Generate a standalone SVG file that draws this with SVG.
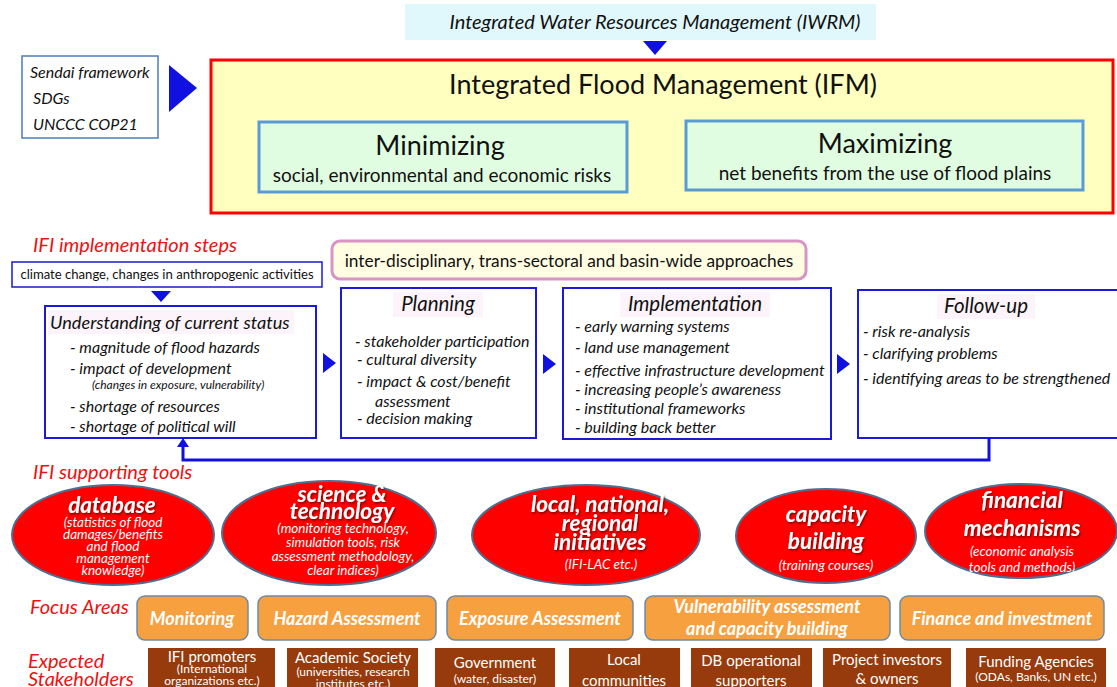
<svg xmlns="http://www.w3.org/2000/svg" width="1117" height="687" viewBox="0 0 1117 687">
<defs>
<style>
text{font-family:Lato,"Open Sans","Liberation Sans",sans-serif;fill:#111}
.it{font-style:italic}
.red{fill:#ee1111;font-style:italic;font-size:20px}
.step{fill:#fff;stroke:#1a1ad8;stroke-width:2}
.tri{fill:#1010e0}
.item{font-style:italic;font-size:16px}
.ell{fill:#ff0000;stroke:#4f6f90;stroke-width:2}
.et{fill:#fff;font-weight:bold;font-style:italic;font-size:22.5px;text-anchor:middle;filter:url(#sh)}
.es{fill:#fff;font-style:italic;font-size:13.5px;text-anchor:middle}
.fa{fill:#f7a040;stroke:#6c8aa6;stroke-width:1.5}
.ft{fill:#fff;font-weight:bold;font-style:italic;font-size:18px;text-anchor:middle}
.sb{fill:#973a0c}
.st{fill:#fff;font-size:15px;text-anchor:middle}
.ss{fill:#fff;font-size:12px;text-anchor:middle}
.ttl{fill:#fcf4fa}
</style>
<filter id="sh" x="-10%" y="-10%" width="120%" height="130%"><feDropShadow dx="1" dy="1.5" stdDeviation="0.8" flood-color="#500" flood-opacity="0.8"/></filter>
</defs>

<g id="iwrm">
<rect x="405" y="4" width="471" height="36" fill="#e0f8fb"/>
<text x="655" y="29" class="it" font-size="20" text-anchor="middle">Integrated Water Resources Management (IWRM)</text>
</g>

<g id="frameworks">
<rect x="22" y="56" width="136" height="82" fill="#fff" stroke="#4a7ebb" stroke-width="1.5"/>
<text x="30" y="78" class="it" font-size="16">Sendai framework</text>
<text x="33" y="104" class="it" font-size="16">SDGs</text>
<text x="33" y="130" class="it" font-size="16">UNCCC COP21</text>
</g>

<g id="ifm">
<rect x="211" y="60" width="902" height="153" fill="#ffffc0" stroke="#ff0000" stroke-width="3"/>
<text x="663" y="94" font-size="27" text-anchor="middle">Integrated Flood Management (IFM)</text>
</g>

<g id="minimizing">
<rect x="259" y="122" width="368" height="70" fill="#e1fde1" stroke="#5b9bd5" stroke-width="3"/>
<text x="440" y="155" font-size="27" text-anchor="middle">Minimizing</text>
<text x="442" y="182" font-size="19" text-anchor="middle">social, environmental and economic risks</text>
</g>

<g id="maximizing">
<rect x="686" y="121" width="397" height="69" fill="#e1fde1" stroke="#5b9bd5" stroke-width="3"/>
<text x="885" y="153" font-size="27" text-anchor="middle">Maximizing</text>
<text x="885" y="180" font-size="19" text-anchor="middle">net benefits from the use of flood plains</text>
</g>

<text x="33" y="252" class="red">IFI implementation steps</text>

<g id="climate">
<rect x="12" y="262" width="310" height="25" fill="#fff" stroke="#1a1ad8" stroke-width="1.5"/>
<text x="167" y="279" font-size="13.1" text-anchor="middle">climate change, changes in anthropogenic activities</text>
</g>

<g id="approaches">
<rect x="332" y="241" width="474" height="38" rx="8" fill="#fffde2" stroke="#d894c4" stroke-width="3"/>
<text x="569" y="267" font-size="17.3" text-anchor="middle">inter-disciplinary, trans-sectoral and basin-wide approaches</text>
</g>

<g id="understanding">
<rect x="45" y="306" width="271" height="132" class="step"/>
<rect x="48" y="310" width="246" height="24" class="ttl"/>
<text x="50" y="329" class="it" font-size="18.2">Understanding of current status</text>
<text x="70" y="353" class="item">- magnitude of flood hazards</text>
<text x="70" y="374" class="item">- impact of development</text>
<text x="92" y="389" class="it" font-size="12">(changes in exposure, vulnerability)</text>
<text x="70" y="412" class="item">- shortage of resources</text>
<text x="70" y="432" class="item">- shortage of political will</text>
</g>

<g id="planning">
<rect x="341" y="288" width="195" height="150" class="step"/>
<rect x="393" y="292" width="90" height="25" class="ttl"/>
<text x="438" y="311" class="it" font-size="20.5" text-anchor="middle">Planning</text>
<text x="355" y="347" class="item">- stakeholder participation</text>
<text x="357" y="365" class="item">- cultural diversity</text>
<text x="357" y="387" class="item">- impact &amp; cost/benefit</text>
<text x="375" y="407" class="item">assessment</text>
<text x="357" y="424" class="item">- decision making</text>
</g>

<g id="implementation">
<rect x="563" y="288" width="268" height="151" class="step"/>
<rect x="620" y="292" width="150" height="25" class="ttl"/>
<text x="695" y="311" class="it" font-size="20.5" text-anchor="middle">Implementation</text>
<text x="575" y="332" class="item">- early warning systems</text>
<text x="575" y="353" class="item">- land use management</text>
<text x="575" y="376" class="item">- effective infrastructure development</text>
<text x="575" y="395" class="item">- increasing people’s awareness</text>
<text x="575" y="414" class="item">- institutional frameworks</text>
<text x="575" y="433" class="item">- building back better</text>
</g>

<g id="followup">
<rect x="858" y="290" width="262" height="148" class="step"/>
<rect x="937" y="294" width="98" height="25" class="ttl"/>
<text x="986" y="313" class="it" font-size="20.5" text-anchor="middle">Follow-up</text>
<text x="863" y="337" class="item">- risk re-analysis</text>
<text x="863" y="359" class="item">- clarifying problems</text>
<text x="863" y="384" class="item">- identifying areas to be strengthened</text>
</g>

<g id="connectors">
<polygon class="tri" points="643,41 667,41 655,55"/>
<polygon class="tri" points="169,65 169,112 197,88"/>
<polygon class="tri" points="151,291 171,291 161,302"/>
<polygon class="tri" points="323,353 323,373 336,363"/>
<polygon class="tri" points="543,354 543,374 556,364"/>
<polygon class="tri" points="837,354 837,374 850,364"/>
<polyline points="989,438 989,460 183,460 183,446" fill="none" stroke="#1010e0" stroke-width="3"/>
<polygon class="tri" points="177,447 189,447 183,438"/>
</g>

<text x="33" y="479" class="red">IFI supporting tools</text>

<g id="database">
<ellipse cx="113" cy="535" rx="101" ry="50" class="ell"/>
<text x="112" y="513" class="et">database</text>
<text x="113" y="527" class="es">(statistics of flood</text>
<text x="113" y="539" class="es">damages/benefits</text>
<text x="113" y="551" class="es">and flood</text>
<text x="113" y="563" class="es">management</text>
<text x="113" y="575" class="es">knowledge)</text>
</g>

<g id="science">
<ellipse cx="329" cy="533" rx="107" ry="52" class="ell"/>
<text x="342" y="502" class="et">science &amp;</text>
<text x="342" y="519" class="et">technology</text>
<text x="343" y="533" class="es">(monitoring technology,</text>
<text x="343" y="547" class="es">simulation tools, risk</text>
<text x="343" y="561" class="es">assessment methodology,</text>
<text x="343" y="575" class="es">clear indices)</text>
</g>

<g id="initiatives">
<ellipse cx="586" cy="535" rx="114" ry="50" class="ell"/>
<text x="600" y="512" class="et">local, national,</text>
<text x="600" y="531" class="et">regional</text>
<text x="600" y="550" class="et">initiatives</text>
<text x="601" y="569" class="es">(IFI-LAC etc.)</text>
</g>

<g id="capacity">
<ellipse cx="826" cy="536" rx="90" ry="47" class="ell"/>
<text x="826" y="522" class="et">capacity</text>
<text x="826" y="549" class="et">building</text>
<text x="826" y="570" class="es">(training courses)</text>
</g>

<g id="financial">
<ellipse cx="1021" cy="531" rx="96" ry="47" class="ell"/>
<text x="1022" y="508" class="et">financial</text>
<text x="1022" y="536" class="et">mechanisms</text>
<text x="1022" y="556" class="es">(economic analysis</text>
<text x="1022" y="572" class="es">tools and methods)</text>
</g>

<text x="30" y="614" class="red">Focus Areas</text>

<g id="monitoring">
<rect x="137" y="596" width="111" height="44" rx="8" class="fa"/>
<text x="192" y="625" class="ft">Monitoring</text>
</g>
<g id="hazard">
<rect x="258" y="596" width="178" height="44" rx="8" class="fa"/>
<text x="347" y="625" class="ft">Hazard Assessment</text>
</g>
<g id="exposure">
<rect x="447" y="596" width="186" height="44" rx="8" class="fa"/>
<text x="540" y="625" class="ft">Exposure Assessment</text>
</g>
<g id="vulnerability">
<rect x="645" y="596" width="245" height="44" rx="8" class="fa"/>
<text x="767" y="613" class="ft">Vulnerability assessment</text>
<text x="767" y="635" class="ft">and capacity building</text>
</g>
<g id="finance">
<rect x="900" y="596" width="204" height="44" rx="8" class="fa"/>
<text x="1002" y="625" class="ft">Finance and investment</text>
</g>

<text x="28" y="668" class="red">Expected</text>
<text x="28" y="686" class="red">Stakeholders</text>

<g id="promoters">
<rect x="148" y="648" width="127" height="39" class="sb"/>
<text x="212" y="662" class="st">IFI promoters</text>
<text x="212" y="673" class="ss">(International</text>
<text x="212" y="685" class="ss">organizations etc.)</text>
</g>
<g id="academic">
<rect x="287" y="648" width="131" height="39" class="sb"/>
<text x="353" y="663" class="st">Academic Society</text>
<text x="353" y="676" class="ss">(universities, research</text>
<text x="353" y="688" class="ss">institutes etc.)</text>
</g>
<g id="government">
<rect x="435" y="648" width="120" height="39" class="sb"/>
<text x="495" y="668" class="st">Government</text>
<text x="495" y="683" class="ss">(water, disaster)</text>
</g>
<g id="local">
<rect x="569" y="648" width="111" height="39" class="sb"/>
<text x="624" y="665" class="st">Local</text>
<text x="624" y="686" class="st">communities</text>
</g>
<g id="db">
<rect x="691" y="648" width="121" height="39" class="sb"/>
<text x="751" y="666" class="st">DB operational</text>
<text x="751" y="686" class="st">supporters</text>
</g>
<g id="investors">
<rect x="823" y="648" width="128" height="39" class="sb"/>
<text x="887" y="665" class="st">Project investors</text>
<text x="887" y="684" class="st">&amp; owners</text>
</g>
<g id="funding">
<rect x="966" y="648" width="140" height="39" class="sb"/>
<text x="1036" y="667" class="st">Funding Agencies</text>
<text x="1036" y="681" class="ss">(ODAs, Banks, UN etc.)</text>
</g>
</svg>
